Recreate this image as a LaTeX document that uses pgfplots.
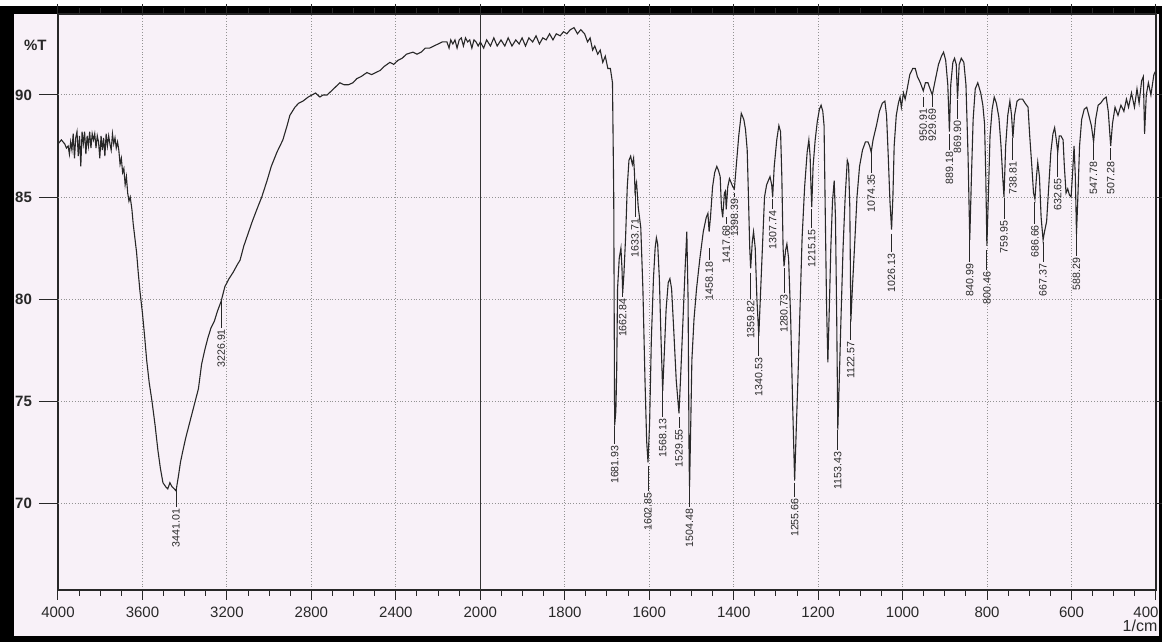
\documentclass[border=0pt]{standalone}
\usepackage{fontspec}
\setmainfont{Liberation Sans}
\usepackage{pgfplots}
\usepackage{pgfplotstable}
\pgfplotsset{compat=1.18}
\definecolor{paper}{RGB}{248,241,248}
\definecolor{ink}{RGB}{40,40,40}
\newcommand{\uexpr}{ifthenelse(\thisrow{nu}>=2000,4000-\thisrow{nu},6000-2*\thisrow{nu})}

\pgfplotstableread{
nu T
4000 87.6
3992 87.7
3984 87.8
3976 87.7
3968 87.6
3960 87.4
3952 87.5
3946 87.1
3940 87.7
3934 87.3
3928 88.1
3922 86.9
3916 87.9
3910 88.2
3904 87.0
3898 88.0
3892 86.5
3886 88.2
3880 87.6
3874 88.2
3868 87.1
3862 88.0
3856 87.5
3850 88.2
3844 87.4
3838 88.1
3832 87.8
3826 88.1
3820 87.4
3814 88.0
3808 87.7
3802 86.9
3796 88.0
3790 87.3
3784 87.9
3778 87.0
3772 88.1
3766 87.5
3760 88.0
3754 87.6
3748 87.3
3742 88.1
3736 87.6
3730 87.9
3724 87.4
3718 87.7
3712 87.3
3706 86.6
3700 86.9
3694 86.2
3688 86.4
3682 85.6
3676 86.0
3670 85.2
3664 84.8
3658 85.0
3650 84.4
3644 83.7
3636 83.0
3628 82.3
3620 81.3
3612 80.4
3600 79.3
3590 78.2
3580 77.0
3568 75.9
3555 75.0
3540 73.8
3527 72.6
3515 71.7
3503 71.0
3490 70.8
3480 70.7
3470 71.0
3460 70.8
3450 70.7
3441 70.6
3430 71.3
3420 72.0
3410 72.5
3395 73.2
3380 73.8
3365 74.4
3350 75.0
3335 75.6
3320 76.8
3305 77.5
3290 78.1
3275 78.6
3260 78.9
3245 79.4
3227 79.9
3210 80.6
3190 81.0
3171 81.3
3150 81.7
3138 81.9
3120 82.6
3100 83.2
3080 83.8
3058 84.4
3035 85.0
3010 85.8
2990 86.5
2963 87.2
2935 87.8
2915 88.5
2902 89.0
2878 89.4
2860 89.6
2840 89.7
2815 89.9
2797 90.0
2780 90.1
2760 89.9
2745 90.0
2726 90.0
2705 90.2
2685 90.4
2665 90.6
2645 90.5
2625 90.5
2603 90.6
2585 90.8
2565 90.9
2537 91.1
2515 91.0
2495 91.1
2475 91.2
2455 91.4
2428 91.6
2410 91.5
2390 91.7
2370 91.8
2350 92.0
2319 92.1
2300 92.0
2280 92.1
2260 92.3
2240 92.3
2220 92.4
2200 92.5
2180 92.6
2158 92.6
2148 92.3
2140 92.7
2130 92.5
2120 92.7
2110 92.3
2100 92.7
2090 92.8
2080 92.4
2070 92.8
2060 92.6
2050 92.7
2040 92.3
2030 92.7
2020 92.6
2010 92.4
2000 92.6
1992 92.3
1985 92.7
1976 92.4
1968 92.8
1960 92.4
1951 92.7
1942 92.4
1934 92.8
1925 92.4
1916 92.7
1908 92.5
1901 92.8
1893 92.4
1885 92.8
1876 92.6
1868 92.9
1860 92.5
1852 92.8
1844 92.7
1836 93.0
1828 92.7
1820 93.0
1811 92.9
1803 93.1
1795 93.0
1787 93.2
1778 93.3
1770 93.0
1762 93.2
1753 93.0
1746 92.6
1740 92.8
1734 92.2
1729 92.4
1722 92.0
1716 92.2
1710 91.6
1704 91.9
1698 91.3
1692 91.3
1687 90.6
1684 85.0
1681.93 73.8
1679 74.5
1677 76.5
1675 80.5
1671 82.0
1667 82.5
1664.5 81.5
1662.84 80.3
1660 81.2
1656 83.0
1652 85.5
1648 86.8
1644 87.0
1640 86.6
1637 86.9
1635 86.2
1633.71 85.3
1630 85.7
1626 84.5
1620 83.5
1615 80.5
1610 76.0
1606 73.0
1602.85 72.0
1599 74.0
1595 78.0
1590 81.0
1586 82.5
1583 83.0
1580 82.7
1576 81.0
1572 78.0
1568.13 75.5
1564 77.5
1560 79.5
1555 80.8
1551 81.0
1547 80.5
1542 78.5
1536 76.0
1529.55 74.4
1525 76.5
1520 79.0
1515 81.5
1511 83.3
1508 80.0
1505.5 72.0
1504.48 70.8
1502 73.5
1499 77.0
1494 79.0
1488 80.5
1480 82.0
1472 83.3
1465 84.0
1461 84.2
1458.18 83.3
1455 84.0
1450 85.5
1445 86.2
1440 86.5
1436 86.3
1432 86.0
1429 84.5
1426 84.0
1422 85.2
1419.5 85.3
1417.68 84.4
1414 85.5
1410 85.9
1406 85.7
1402 85.5
1398.39 85.4
1394 86.5
1388 88.0
1382 89.1
1376 88.8
1372 88.3
1368 87.3
1365 85.0
1362 82.5
1359.82 81.5
1356 82.8
1353 83.3
1349 82.5
1345 80.0
1340.53 78.2
1336 80.5
1332 82.5
1327 85.0
1322 85.6
1318 85.8
1314 86.0
1310 85.6
1307.74 85.0
1304 86.5
1298 87.8
1293 88.5
1289 88.2
1286 86.0
1283 82.5
1280.73 81.6
1277 82.4
1274 82.7
1270 82.0
1265 79.0
1260 74.5
1255.66 71.1
1252 73.5
1248 76.0
1243 79.5
1238 83.0
1232 85.5
1226 87.2
1222 87.8
1219 87.0
1217 85.5
1215.15 84.5
1212 86.5
1207 87.8
1202 88.7
1197 89.3
1193 89.5
1189 89.2
1186 88.5
1183 84.0
1180 79.6
1177 76.9
1173 80.0
1170 82.5
1166 84.8
1162 85.8
1159 84.0
1156 79.0
1153.43 73.6
1150 76.0
1146 79.0
1141 82.5
1136 85.0
1131 86.8
1128 86.6
1125 84.5
1122.57 78.9
1119 80.5
1114 82.5
1108 85.0
1102 86.5
1095 87.3
1088 87.7
1082 87.7
1078 87.5
1074.35 87.2
1070 87.8
1062 88.5
1055 89.2
1048 89.6
1042 89.7
1038 89.0
1034 87.0
1030 84.8
1026.13 83.4
1023 85.0
1020 87.5
1015 89.0
1010 89.6
1006 89.9
1003 89.4
998 90.1
994 89.8
990 90.2
983 91.0
976 91.3
970 91.3
965 90.9
958 90.6
951 90.2
946 90.6
940 90.6
935 90.3
929.69 90.0
924 90.6
915 91.5
908 91.9
903 92.1
898 91.7
893 90.5
889.18 88.2
886 90.5
881 91.6
877 91.8
873 91.5
869.90 89.8
866 91.5
861 91.8
855 91.6
850 90.5
845 87.0
840.99 82.9
837 86.0
833 88.8
828 90.3
822 90.6
815 90.1
810 89.5
806 88.6
803 86.0
800.46 82.6
797 85.0
793 88.0
788 89.3
783 89.9
778 89.6
772 88.9
767 87.5
763 86.0
759.95 85.0
756 87.5
751 89.0
746 89.7
742 89.0
738.81 87.9
735 89.0
729 89.7
723 89.8
716 89.8
710 89.6
703 89.4
699 88.0
694 86.5
690 85.2
686.66 84.9
683 86.0
680 86.7
676 86.0
672 84.0
667.37 82.9
664 83.3
659 83.8
654 85.5
649 87.2
644 88.1
640 88.4
636 87.8
632.65 87.2
629 88.0
625 88.0
620 87.8
617 86.5
613 85.2
609 85.4
605 85.1
601 85.0
598 86.0
594 87.5
591 86.0
588.29 83.2
585 85.0
581 87.5
576 88.8
570 89.3
564 89.4
559 89.0
553 88.5
547.78 87.7
543 88.8
537 89.5
531 89.6
524 89.8
518 89.9
513 89.2
507.28 87.5
503 88.6
497 89.4
490 89.0
483 89.5
476 89.2
470 89.8
465 89.4
458 90.1
451 89.4
445 90.3
440 89.6
434 90.7
430 90.9
427 88.1
423 90.0
418 90.6
412 90.0
405 91.0
400 91.2
}\spec

\pgfplotstableread{
nu T L lab
3441.01 70.7 69.8 3441.01
3226.91 79.95 78.6 3226.91
1681.93 73.8 72.9 1681.93
1662.84 80.8 80.1 1662.84
1633.71 85.3 84.0 1633.71
1602.85 71.8 70.6 1602.85
1568.13 75.5 74.2 1568.13
1529.55 74.2 73.7 1529.55
1504.48 70.8 69.8 1504.48
1458.18 82.5 81.9 1458.18
1417.68 84.0 83.7 1417.68
1398.39 85.2 85.0 1398.39
1359.82 81.3 80.0 1359.82
1340.53 78.3 77.2 1340.53
1307.74 84.9 84.4 1307.74
1280.73 81.5 80.3 1280.73
1255.66 71.0 70.3 1255.66
1215.15 84.4 83.5 1215.15
1153.43 73.6 72.6 1153.43
1122.57 79.0 78.0 1122.57
1074.35 87.2 86.2 1074.35
1026.13 83.2 82.3 1026.13
950.91 89.9 89.4 950.91
929.69 90.0 89.4 929.69
889.18 88.1 87.3 889.18
869.90 89.75 88.8 869.90
840.99 82.9 81.8 840.99
800.46 82.4 81.4 800.46
759.95 84.95 83.9 759.95
738.81 87.9 86.8 738.81
686.66 84.75 83.7 686.66
667.37 82.8 81.8 667.37
632.65 87.15 86.0 632.65
588.29 83.2 82.1 588.29
547.78 87.6 86.8 547.78
507.28 87.4 86.8 507.28
}\peaks

\begin{document}
\begin{tikzpicture}
\fill[black] (-29pt,-26pt) rectangle (552pt,292pt);
\fill[white] (-29pt,292pt) rectangle (552pt,295pt);
\fill[paper] (-22pt,-23pt) rectangle (550.5pt,288pt);
\begin{axis}[
  scale only axis, width=549pt, height=288pt,
  at={(0pt,0pt)}, anchor=south west,
  xmin=0, xmax=5200, ymin=65.74, ymax=93.97,
  clip=false,
  axis line style={ink, line width=0.6pt},
  tick align=outside,
  tick style={ink, line width=0.5pt},
  major tick length=5pt, minor tick length=3pt,
  xtick={0,400,...,5200},
  xticklabels={4000,3600,3200,2800,2400,2000,1800,1600,1400,1200,1000,800,600,\kern-10pt 400},
  minor x tick num=3,
  xmajorgrids=true,
  ytick=\empty,
  minor ytick={66.6667,68.3333,71.6667,73.3333,76.6667,78.3333,81.6667,83.3333,86.6667,88.3333,91.6667,93.3333},
  extra y ticks={70,75,80,85,90},
  extra y tick labels={70,75,80,85,90},
  extra tick style={major tick length=9.5pt, grid=major},
  major grid style={densely dotted, gray!85, line width=0.5pt},
  xticklabel style={font=\fontsize{7.5}{8}\selectfont, text=ink},
  yticklabel style={font=\bfseries\fontsize{7.5}{8}\selectfont, text=ink},
]
\addplot[gray!40!black, line width=0.6pt] coordinates {(2000,65.74) (2000,93.97)};
\addplot[ink, line width=0.55pt] table[x expr=\uexpr, y=T]{\spec};
\addplot[draw=none, mark=none, error bars/.cd, y dir=minus, y explicit,
  error mark=none, error bar style={draw=ink, solid, line width=0.45pt}]
  table[x expr=\uexpr, y=T, y error expr=\thisrow{T}-\thisrow{L}]{\peaks};
\addplot[draw=none, mark=none, nodes near coords, point meta=explicit symbolic,
  nodes near coords align={anchor=east},
  every node near coord/.append style={rotate=90, anchor=east,
    font=\fontsize{5.3}{5.3}\selectfont, inner sep=0.6pt, text=ink}]
  table[x expr=\uexpr, y=L, meta=lab]{\peaks};
\node[anchor=west, xshift=-20.5pt, font=\bfseries\fontsize{7.5}{8}\selectfont, text=ink]
  at (axis cs:0,92.45) {\%T};
\node[xshift=-8pt, yshift=-18pt, font=\fontsize{8}{9}\selectfont, text=ink]
  at (axis cs:5200,65.74) {1/cm};
\end{axis}
\pgfresetboundingbox
\path (-29pt,-26pt) rectangle (552pt,295pt);
\end{tikzpicture}
\end{document}
